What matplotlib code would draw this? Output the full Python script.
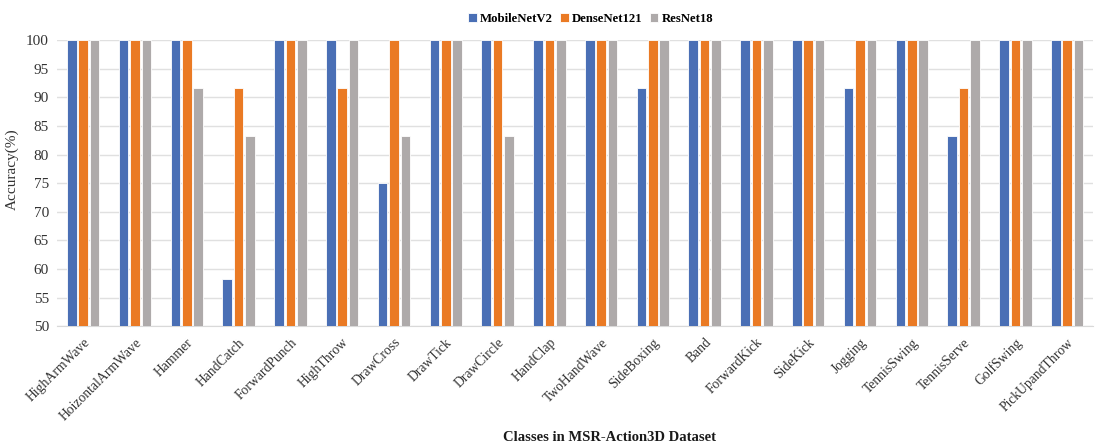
import numpy as np
import matplotlib.pyplot as plt

classes = ['HighArmWave', 'HoizontalArmWave', 'Hammer', 'HandCatch', 'ForwardPunch',
           'HighThrow', 'DrawCross', 'DrawTick', 'DrawCircle', 'HandClap',
           'TwoHandWave', 'SideBoxing', 'Band', 'ForwardKick', 'SideKick',
           'Jogging', 'TennisSwing', 'TennisServe', 'GolfSwing', 'PickUpandThrow']
mobilenet = [100, 100, 100, 58.33, 100, 100, 75, 100, 100, 100,
             100, 91.67, 100, 100, 100, 91.67, 100, 83.33, 100, 100]
densenet = [100, 100, 100, 91.67, 100, 91.67, 100, 100, 100, 100,
            100, 100, 100, 100, 100, 100, 100, 91.67, 100, 100]
resnet = [100, 100, 91.67, 83.33, 100, 100, 83.33, 100, 83.33, 100,
          100, 100, 100, 100, 100, 100, 100, 100, 100, 100]
series = [('MobileNetV2', mobilenet, '#4a6fb5'),
          ('DenseNet121', densenet, '#ea7a24'),
          ('ResNet18', resnet, '#aeaaaa')]

plt.rcParams['font.family'] = ['Liberation Serif', 'DejaVu Serif']

fig = plt.figure(figsize=(11.03, 4.42), dpi=100)
ax = fig.add_axes([0.052, 0.262, 0.939, 0.647])

x = np.arange(len(classes))
w = 0.185
step = 0.22
for i, (name, vals, color) in enumerate(series):
    ax.bar(x + (i - 1) * step, np.array(vals) - 50, width=w, bottom=50,
           color=color, edgecolor='white', linewidth=0.6, label=name, zorder=3)

ax.set_xlim(-0.5, len(classes) - 0.5)
ax.set_ylim(50, 100)
ax.set_yticks(np.arange(50, 101, 5))
ax.yaxis.grid(True, color='#e0e0e0', linewidth=1, zorder=0)
for s in ['top', 'right', 'left']:
    ax.spines[s].set_visible(False)
ax.spines['bottom'].set_color('#d9d9d9')
ax.tick_params(axis='y', length=0, labelsize=11, colors='#333333', pad=6)
ax.tick_params(axis='x', length=0, labelsize=9.8, colors='#333333', pad=7)
ax.set_xticks(x)
ax.set_xticklabels(classes, rotation=45, ha='right', rotation_mode='anchor')

ax.set_ylabel('Accuracy(%)', fontsize=11, color='#333333')
ax.yaxis.set_label_coords(-0.037, 0.55)
ax.set_xlabel('Classes in MSR-Action3D Dataset', fontsize=10.5, fontweight='bold',
              color='#1a1a1a')
ax.xaxis.set_label_coords(0.533, -0.365)

ax.legend(loc='center', bbox_to_anchor=(0.515, 1.075), ncol=3, frameon=False,
          prop={'weight': 'bold', 'size': 9.2}, handlelength=0.65, handleheight=0.65,
          handletextpad=0.25, columnspacing=0.6)

fig.savefig('out.png', dpi=100)
